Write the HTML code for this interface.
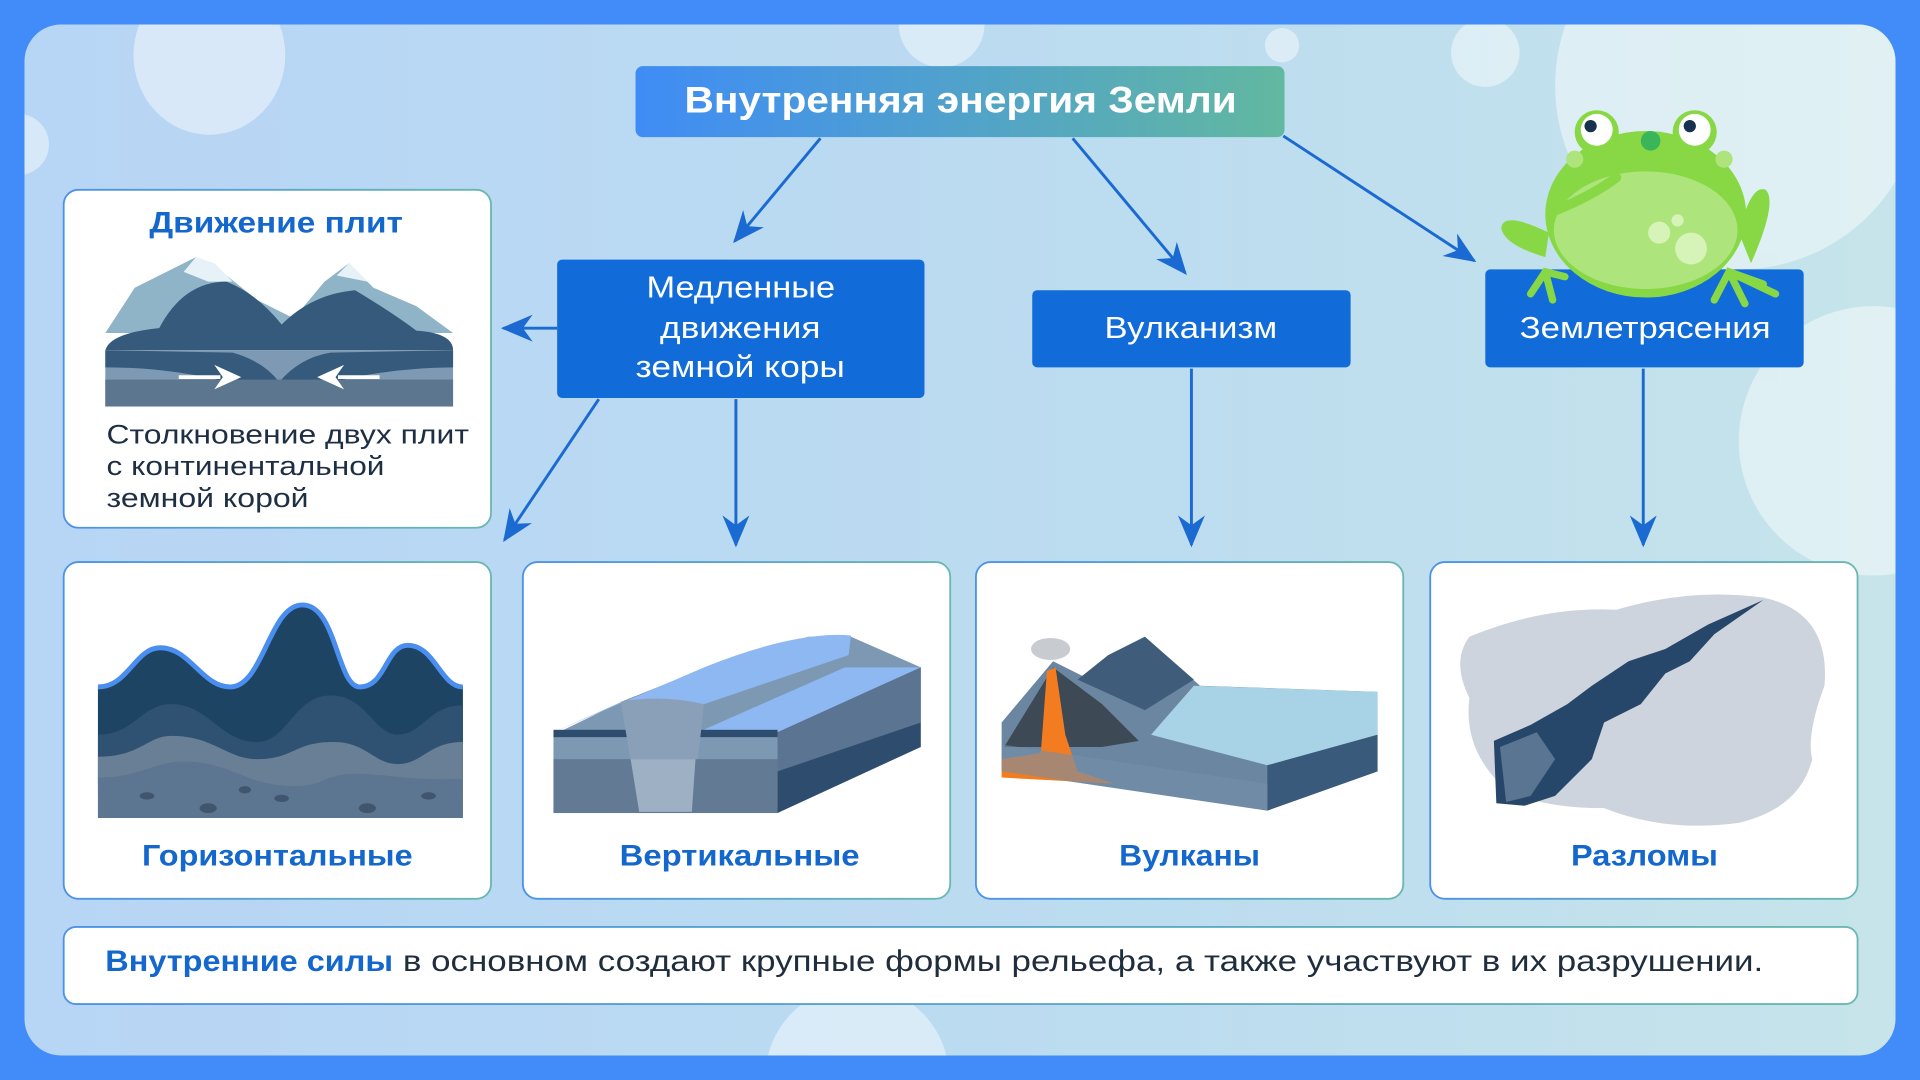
<!DOCTYPE html>
<html><head><meta charset="utf-8"><style>
html,body{margin:0;padding:0;width:1920px;height:1080px;overflow:hidden;background:#418cf8}
svg{display:block;position:absolute;left:0;top:0}
text{font-family:"Liberation Sans","DejaVu Sans",sans-serif}
</style></head><body>
<svg width="1920" height="1080" viewBox="0 0 1568 882" xmlns="http://www.w3.org/2000/svg">
<defs>
<linearGradient id="bg" x1="0" y1="0" x2="1" y2="0">
<stop offset="0" stop-color="#b7d5f5"/><stop offset="0.6" stop-color="#bcdcf0"/><stop offset="1" stop-color="#c6e4ea"/></linearGradient>
<linearGradient id="tg" x1="0" y1="0" x2="1" y2="0">
<stop offset="0" stop-color="#3f8cf6"/><stop offset="1" stop-color="#62b8a0"/></linearGradient>
<linearGradient id="cb" x1="0" y1="0" x2="1" y2="0">
<stop offset="0" stop-color="#4c92e6"/><stop offset="1" stop-color="#6ab8b0"/></linearGradient>
<marker id="ah" viewBox="0 0 26 22" refX="24" refY="11" markerWidth="26" markerHeight="22" markerUnits="userSpaceOnUse" orient="auto">
<path d="M0,0 L26,11 L0,22 L8,11 Z" fill="#1a6ad2"/></marker>
<clipPath id="pc"><rect x="20" y="20" width="1528" height="842" rx="30"/></clipPath>
</defs>
<rect x="0" y="0" width="1568" height="882" fill="#418cf8"/>
<rect x="20" y="20" width="1528" height="842" rx="30" fill="url(#bg)"/>
<g clip-path="url(#pc)" fill="#ffffff" opacity="0.45">
<ellipse cx="171" cy="45" rx="62" ry="65"/>
<circle cx="15" cy="118" r="25"/>
<circle cx="769" cy="20" r="35"/>
<circle cx="1047" cy="37" r="14"/>
<circle cx="1213" cy="43" r="28"/>
<circle cx="1420" cy="70" r="150"/>
<circle cx="1530" cy="360" r="110"/>
<circle cx="700" cy="880" r="75"/>
</g>
<!-- title -->
<rect x="519" y="54" width="530" height="58" rx="6" fill="url(#tg)"/>
<text x="559" y="92" textLength="451" lengthAdjust="spacingAndGlyphs" fill="#fff" font-size="30" font-weight="bold">Внутренняя энергия Земли</text>
<!-- arrows -->
<g stroke="#1a6ad2" stroke-width="2.4" fill="none" marker-end="url(#ah)">
<line x1="670" y1="113" x2="600" y2="197"/>
<line x1="876" y1="113" x2="968" y2="223"/>
<line x1="1048" y1="111" x2="1204" y2="213"/>
<line x1="455" y1="268" x2="411" y2="268"/>
<line x1="489" y1="326" x2="412" y2="441"/>
<line x1="601" y1="326" x2="601" y2="445"/>
<line x1="973" y1="301" x2="973" y2="445"/>
<line x1="1342" y1="301" x2="1342" y2="445"/>
</g>
<!-- middle boxes -->
<rect x="455" y="212" width="300" height="113" rx="4" fill="#116bd8"/>
<g fill="#fff" font-size="25">
<text x="528" y="243" textLength="154" lengthAdjust="spacingAndGlyphs">Медленные</text>
<text x="539" y="276" textLength="131" lengthAdjust="spacingAndGlyphs">движения</text>
<text x="519" y="308" textLength="171" lengthAdjust="spacingAndGlyphs">земной коры</text>
</g>
<rect x="843" y="237" width="260" height="63" rx="4" fill="#116bd8"/>
<text x="902" y="276" textLength="141" lengthAdjust="spacingAndGlyphs" fill="#fff" font-size="25">Вулканизм</text>
<rect x="1213" y="220" width="260" height="80" rx="4" fill="#116bd8"/>
<text x="1241" y="276" textLength="205" lengthAdjust="spacingAndGlyphs" fill="#fff" font-size="25">Землетрясения</text>
<!-- frog -->
<g>
<path d="M1265,190 Q1228,172 1226,186 Q1228,200 1262,210 Z" fill="#88d846"/>
<path d="M1420,190 Q1430,150 1442,155 Q1452,165 1430,215 Z" fill="#88d846"/>
<ellipse cx="1344" cy="175" rx="82" ry="68" fill="#88d846"/>
<circle cx="1304" cy="108" r="18" fill="#88d846"/><circle cx="1384" cy="108" r="18" fill="#88d846"/>
<circle cx="1304" cy="106" r="13" fill="#fff"/><circle cx="1384" cy="106" r="13" fill="#fff"/>
<circle cx="1299" cy="103" r="5" fill="#17324f"/><circle cx="1380" cy="103" r="5" fill="#17324f"/>
<circle cx="1348" cy="115" r="8" fill="#3bb55a"/>
<ellipse cx="1344" cy="188" rx="75" ry="48" fill="#ade57c"/>
<path d="M1270,172 Q1300,160 1320,145" stroke="#88d846" stroke-width="8" fill="none" stroke-linecap="round"/>
<circle cx="1355" cy="190" r="9" fill="#d6f3b8"/><circle cx="1381" cy="203" r="13" fill="#d6f3b8"/><circle cx="1370" cy="180" r="5" fill="#d6f3b8"/>
<circle cx="1286" cy="130" r="7" fill="#ade57c"/><circle cx="1408" cy="130" r="7" fill="#ade57c"/>
<path d="M1250,240 L1262,222 L1278,226 M1262,222 L1268,245 M1400,245 L1412,222 L1440,232 M1412,222 L1450,240 M1412,222 L1425,248" stroke="#88d846" stroke-width="6" fill="none" stroke-linecap="round"/>
</g>
<!-- plate card -->
<rect x="52" y="155" width="349" height="276" rx="12" fill="#fff" stroke="url(#cb)" stroke-width="1.5"/>
<text x="122" y="190" textLength="207" lengthAdjust="spacingAndGlyphs" fill="#1467cc" font-size="24" font-weight="bold">Движение плит</text>
<path d="M86,272 L110,235 L130,225 L160,210 L185,225 L210,245 L240,260 L265,230 L285,215 L305,235 L340,250 L370,272 Z" fill="#8fb4c8"/>
<path d="M150,222 L160,210 L175,215 L190,230 L170,230 Z M275,225 L285,215 L300,230 Z" fill="#e6f2f8"/>
<path d="M86,286 Q90,272 130,268 Q150,230 185,230 Q210,240 230,265 Q255,240 290,237 Q320,255 340,270 Q370,272 370,286 Z" fill="#355a7c"/>
<path d="M86,286 L370,286 L370,332 L86,332 Z" fill="#7d99b3"/>
<path d="M86,286 L190,288 Q215,295 228,312 Q245,292 270,288 L370,286 L370,300 Q300,300 228,325 Q160,300 86,300 Z" fill="#355a7c"/>
<rect x="86" y="310" width="284" height="22" fill="#5d7690"/>
<g stroke="#fff" stroke-width="3" fill="#fff"><line x1="146" y1="308" x2="180" y2="308"/><line x1="310" y1="308" x2="276" y2="308"/></g>
<path d="M197,308 L175,298 L182,308 L175,318 Z M259,308 L281,298 L274,308 L281,318 Z" fill="#fff"/>
<g fill="#1e2f44" font-size="22">
<text x="87" y="362" textLength="296" lengthAdjust="spacingAndGlyphs">Столкновение двух плит</text>
<text x="87" y="388" textLength="227" lengthAdjust="spacingAndGlyphs">с континентальной</text>
<text x="87" y="414" textLength="165" lengthAdjust="spacingAndGlyphs">земной корой</text>
</g>
<!-- bottom cards -->
<g fill="#fff" stroke="url(#cb)" stroke-width="1.5">
<rect x="52" y="459" width="349" height="275" rx="12"/>
<rect x="427" y="459" width="349" height="275" rx="12"/>
<rect x="797" y="459" width="349" height="275" rx="12"/>
<rect x="1168" y="459" width="349" height="275" rx="12"/>
</g>
<g fill="#1467cc" font-size="24" font-weight="bold">
<text x="116" y="707" textLength="221" lengthAdjust="spacingAndGlyphs">Горизонтальные</text>
<text x="506" y="707" textLength="196" lengthAdjust="spacingAndGlyphs">Вертикальные</text>
<text x="914" y="707" textLength="115" lengthAdjust="spacingAndGlyphs">Вулканы</text>
<text x="1283" y="707" textLength="120" lengthAdjust="spacingAndGlyphs">Разломы</text>
</g>
<!-- horizontal folds -->
<rect x="80" y="560" width="298" height="108" fill="#5d7690"/>
<path d="M80,561 C105,561 110,529 131,529 C155,529 165,561 188,561 C215,561 220,494 247,494 C275,494 275,561 294,561 C315,561 315,527 333,527 C355,527 360,561 378,561 L378,640 L80,640 Z" fill="#1e4464"/>
<path d="M80,561 C105,561 110,529 131,529 C155,529 165,561 188,561 C215,561 220,494 247,494 C275,494 275,561 294,561 C315,561 315,527 333,527 C355,527 360,561 378,561" fill="none" stroke="#4a8ef0" stroke-width="4"/>
<path d="M80,600 C110,600 115,575 140,575 C170,575 180,606 210,606 C235,606 240,568 270,568 C300,568 305,600 325,600 C345,600 350,576 378,576 L378,640 L80,640 Z" fill="#2f5272"/>
<path d="M80,618 C115,618 120,601 140,601 C175,601 185,620 210,620 C240,620 240,606 272,606 C300,606 305,624 325,624 C345,624 350,606 378,606 L378,650 L80,650 Z" fill="#687f96"/>
<path d="M80,635 C115,635 125,622 150,622 C190,622 200,642 240,642 C265,642 265,632 290,632 C320,632 330,638 378,636 L378,668 L80,668 Z" fill="#5c7590"/>
<g fill="#3f566e"><ellipse cx="120" cy="650" rx="6" ry="3"/><ellipse cx="170" cy="660" rx="7" ry="4"/><ellipse cx="230" cy="652" rx="6" ry="3"/><ellipse cx="300" cy="660" rx="7" ry="4"/><ellipse cx="350" cy="650" rx="6" ry="3"/><ellipse cx="200" cy="645" rx="5" ry="3"/></g>
<!-- vertical blocks -->
<path d="M452,600 L510,572 L570,548 L660,520 L695,520 L752,545 L752,590 L635,664 L452,664 Z" fill="#7d98b2"/>
<path d="M452,598 L575,545 Q650,515 695,519 L693,535 L575,575 L508,573 L452,598 Z" fill="#8db8f2"/>
<path d="M570,598 L690,545 L752,545 L635,598 Z" fill="#8db8f2"/>
<path d="M635,598 L752,545 L752,590 L635,664 Z" fill="#5a7492"/>
<path d="M635,630 L752,590 L752,610 L635,664 Z" fill="#2e4d6e"/>
<rect x="452" y="596" width="183" height="6" fill="#2e4d6e"/>
<path d="M507,573 Q540,567 575,575 L565,663 L522,663 Z" fill="#8aa0b8"/>
<rect x="452" y="620" width="183" height="44" fill="#627a93"/>
<path d="M515,620 L568,620 L565,663 L522,663 Z" fill="#9db0c4"/>
<!-- volcano -->
<path d="M818,630 L818,590 L860,540 L900,560 L920,540 L935,520 L980,560 L1125,565 L1125,630 L1035,662 Z" fill="#6a86a0"/>
<path d="M975,560 L1125,565 L1125,600 L1035,625 L940,600 Z" fill="#a8d2e6"/>
<path d="M1035,625 L1125,600 L1125,630 L1035,662 Z" fill="#3a5a7c"/>
<path d="M880,555 L905,535 L935,520 L975,555 L935,580 Z" fill="#3f5d7a"/>
<path d="M820,610 L860,545 L900,575 L930,605 L900,610 Z" fill="#3d4a55"/>
<path d="M855,548 L862,545 L870,600 L880,630 L910,640 L818,635 L818,620 L850,615 Z" fill="#f47c20"/>
<ellipse cx="858" cy="530" rx="16" ry="9" fill="#c8ccd0"/>
<path d="M818,630 L1035,662 L1035,640 L818,608 Z" fill="#7590aa" opacity="0.6"/>
<!-- fault -->
<path d="M1200,520 Q1260,495 1320,498 Q1380,480 1440,488 Q1495,500 1490,560 Q1475,600 1480,620 Q1470,660 1420,672 Q1360,680 1310,660 Q1250,660 1225,640 Q1195,610 1200,570 Q1185,540 1200,520 Z" fill="#cdd4de"/>
<path d="M1220,605 L1250,592 L1280,575 L1300,560 L1330,540 L1360,530 L1395,510 L1440,490 L1400,518 L1380,540 L1360,550 L1340,575 L1310,590 L1300,620 L1270,650 L1245,658 L1222,656 Z" fill="#27476a"/>
<path d="M1225,610 L1255,598 L1270,620 L1250,650 L1230,655 Z" fill="#5a7592"/>
<!-- bottom bar -->
<rect x="52" y="757" width="1465" height="63" rx="10" fill="#fff" stroke="url(#cb)" stroke-width="1.5"/>
<text x="86" y="793" textLength="235" lengthAdjust="spacingAndGlyphs" font-size="24" fill="#1467cc" font-weight="bold">Внутренние силы</text>
<text x="329" y="793" textLength="1111" lengthAdjust="spacingAndGlyphs" font-size="24" fill="#1f2d3d">в основном создают крупные формы рельефа, а также участвуют в их разрушении.</text>
</svg>
</body></html>
